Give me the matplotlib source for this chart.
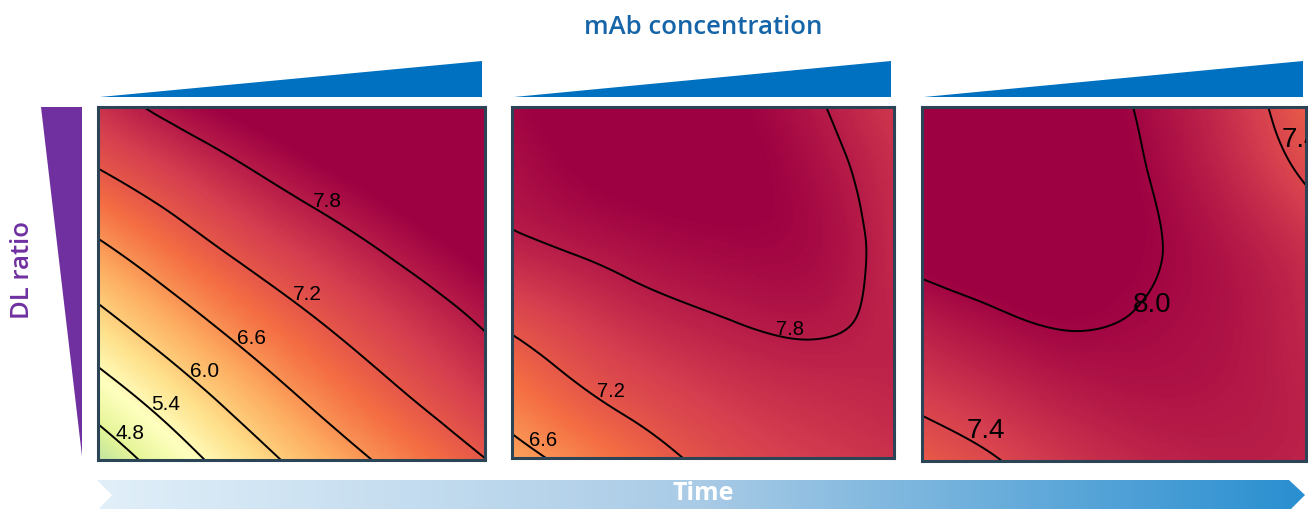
import numpy as np
import matplotlib
matplotlib.use("Agg")
import matplotlib.pyplot as plt
from matplotlib.patches import Polygon
from matplotlib.colors import LinearSegmentedColormap
from matplotlib.tri import Triangulation, UniformTriRefiner, CubicTriInterpolator

W, H = 1308, 509

# grid positions (fraction of the mAb concentration / DL ratio range)
grid_x = [0.0, 0.2, 0.4, 0.6, 0.8, 1.0]
grid_y = [0.0, 0.2, 0.4, 0.6, 0.8, 1.0]

# response: rows = DL ratio (bottom -> top), cols = mAb conc (left -> right)
panel1_vals = [
    [4.40, 5.14, 5.79, 6.34, 6.80, 7.19],
    [5.17, 5.78, 6.35, 6.84, 7.23, 7.56],
    [5.86, 6.40, 6.88, 7.26, 7.57, 7.85],
    [6.51, 6.97, 7.35, 7.64, 7.90, 8.13],
    [7.13, 7.46, 7.76, 8.00, 8.19, 8.35],
    [7.60, 7.92, 8.14, 8.32, 8.45, 8.55],
]
panel2_vals = [
    [6.45, 6.79, 7.13, 7.38, 7.52, 7.60],
    [6.88, 7.22, 7.45, 7.60, 7.68, 7.72],
    [7.31, 7.55, 7.72, 7.82, 7.85, 7.72],
    [7.73, 7.85, 7.95, 8.00, 7.95, 7.68],
    [7.90, 8.05, 8.10, 8.08, 7.92, 7.65],
    [8.00, 8.15, 8.15, 8.05, 7.83, 7.55],
]
panel3_vals = [
    [7.15, 7.39, 7.60, 7.72, 7.78, 7.75],
    [7.52, 7.68, 7.82, 7.88, 7.85, 7.75],
    [7.80, 7.96, 8.03, 7.97, 7.88, 7.70],
    [8.14, 8.20, 8.15, 8.02, 7.85, 7.62],
    [8.30, 8.30, 8.20, 7.99, 7.72, 7.37],
    [8.35, 8.35, 8.20, 7.93, 7.62, 7.15],
]

panel1_levels = [4.8, 5.4, 6.0, 6.6, 7.2, 7.8]
panel2_levels = [6.6, 7.2, 7.8]
panel3_levels = [7.4, 8.0]

title_top = "mAb concentration"
title_left = "DL ratio"
title_bottom = "Time"

# layout in pixels: (left, top, right, bottom)
boxes = [(98, 107, 485, 460), (512, 107, 894, 458), (922, 107, 1306, 461)]
# where each label's lower-left corner touches its line (axes fractions)
label_pos = [
    [(0.057, 0.075), (0.147, 0.155), (0.243, 0.24), (0.362, 0.335), (0.501, 0.45),
     (0.553, 0.71)],
    [(0.052, 0.043), (0.222, 0.174), (0.694, 0.365)],
    [(0.120, 0.073), (0.542, 0.427), (0.9375, 0.887)],
]
label_size = [15, 14.5, 20]

# colour scale (Spectral, stretched to match the picture)
vlo, vhi = 4.2, 8.05
anchors = [(4.2, "#abdda4"), (4.8, "#e6f598"), (5.3, "#ffffbf"), (5.8, "#fee08b"),
           (6.35, "#fdae61"), (6.95, "#f46d43"), (7.5, "#d53e4f"), (8.05, "#9e0142")]
cmap = LinearSegmentedColormap.from_list(
    "resp", [((v - vlo) / (vhi - vlo), c) for v, c in anchors])

fig = plt.figure(figsize=(W / 100, H / 100), dpi=100)
bg = fig.add_axes([0, 0, 1, 1])
bg.set_xlim(0, W)
bg.set_ylim(H, 0)
bg.axis("off")

# blue wedges above the panels
for l, t, r, b in boxes:
    bg.add_patch(Polygon([(l + 2, t - 10), (r - 3, t - 46), (r - 3, t - 10)],
                         closed=True, color="#0070C0", lw=0))

# purple wedge on the left
bg.add_patch(Polygon([(41, 107), (82, 107), (82, 456)], closed=True, color="#7030A0", lw=0))

# time arrow with gradient
arrow = Polygon([(97, 480), (1289, 480), (1305, 495), (1289, 511), (97, 511), (112, 495)],
                closed=True, facecolor="none", edgecolor="none")
bg.add_patch(arrow)
grad_cmap = LinearSegmentedColormap.from_list("time", ["#e1eff9", "#a9cbe6", "#2a8fd0"])
im = bg.imshow(np.linspace(0, 1, 256).reshape(1, -1), cmap=grad_cmap, aspect="auto",
               extent=(97, 1305, 511, 480))
im.set_clip_path(arrow)

bg.text(703, 27, title_top, ha="center", va="center", fontsize=18.5, fontweight="semibold",
        color="#1565A8", family="Open Sans")
bg.text(23, 270, title_left, ha="center", va="center", fontsize=18.5, fontweight="semibold",
        color="#7030A0", family="Open Sans", rotation=90)
bg.text(703, 494, title_bottom, ha="center", va="center", fontsize=18, fontweight="bold",
        color="white", family="Open Sans")

gx, gy = np.meshgrid(grid_x, grid_y)
tri = Triangulation(gx.ravel(), gy.ravel())
refiner = UniformTriRefiner(tri)

for vals, levels, box, pos, fs in zip([panel1_vals, panel2_vals, panel3_vals],
                                      [panel1_levels, panel2_levels, panel3_levels],
                                      boxes, label_pos, label_size):
    l, t, r, b = box
    ax = fig.add_axes([l / W, 1 - b / H, (r - l) / W, (b - t) / H])
    z = np.array(vals).ravel()
    interp = CubicTriInterpolator(tri, z, kind="min_E")
    tri_f, z_f = refiner.refine_field(z, triinterpolator=interp, subdiv=5)
    ax.tripcolor(tri_f, z_f, shading="gouraud", cmap=cmap, vmin=vlo, vmax=vhi)
    cs = ax.tricontour(tri_f, z_f, levels=levels, colors="black", linewidths=1.4)
    ax.clabel(cs, fmt="%.1f", fontsize=fs, inline=False, manual=pos, colors="black")
    # labels sit on top of the line, horizontal, touching it at their lower-left
    for txt in cs.labelTexts:
        txt.set_family("Liberation Sans")
        txt.set_rotation(0)
        txt.set_ha("left")
        txt.set_va("baseline")
        txt.set_clip_on(True)
        txt.set_clip_path(ax.patch)
    ax.set_xlim(0, 1)
    ax.set_ylim(0, 1)
    ax.set_xticks([])
    ax.set_yticks([])
    for sp in ax.spines.values():
        sp.set_color("#2c4556")
        sp.set_linewidth(2.2)

fig.savefig("out.png", dpi=100)
